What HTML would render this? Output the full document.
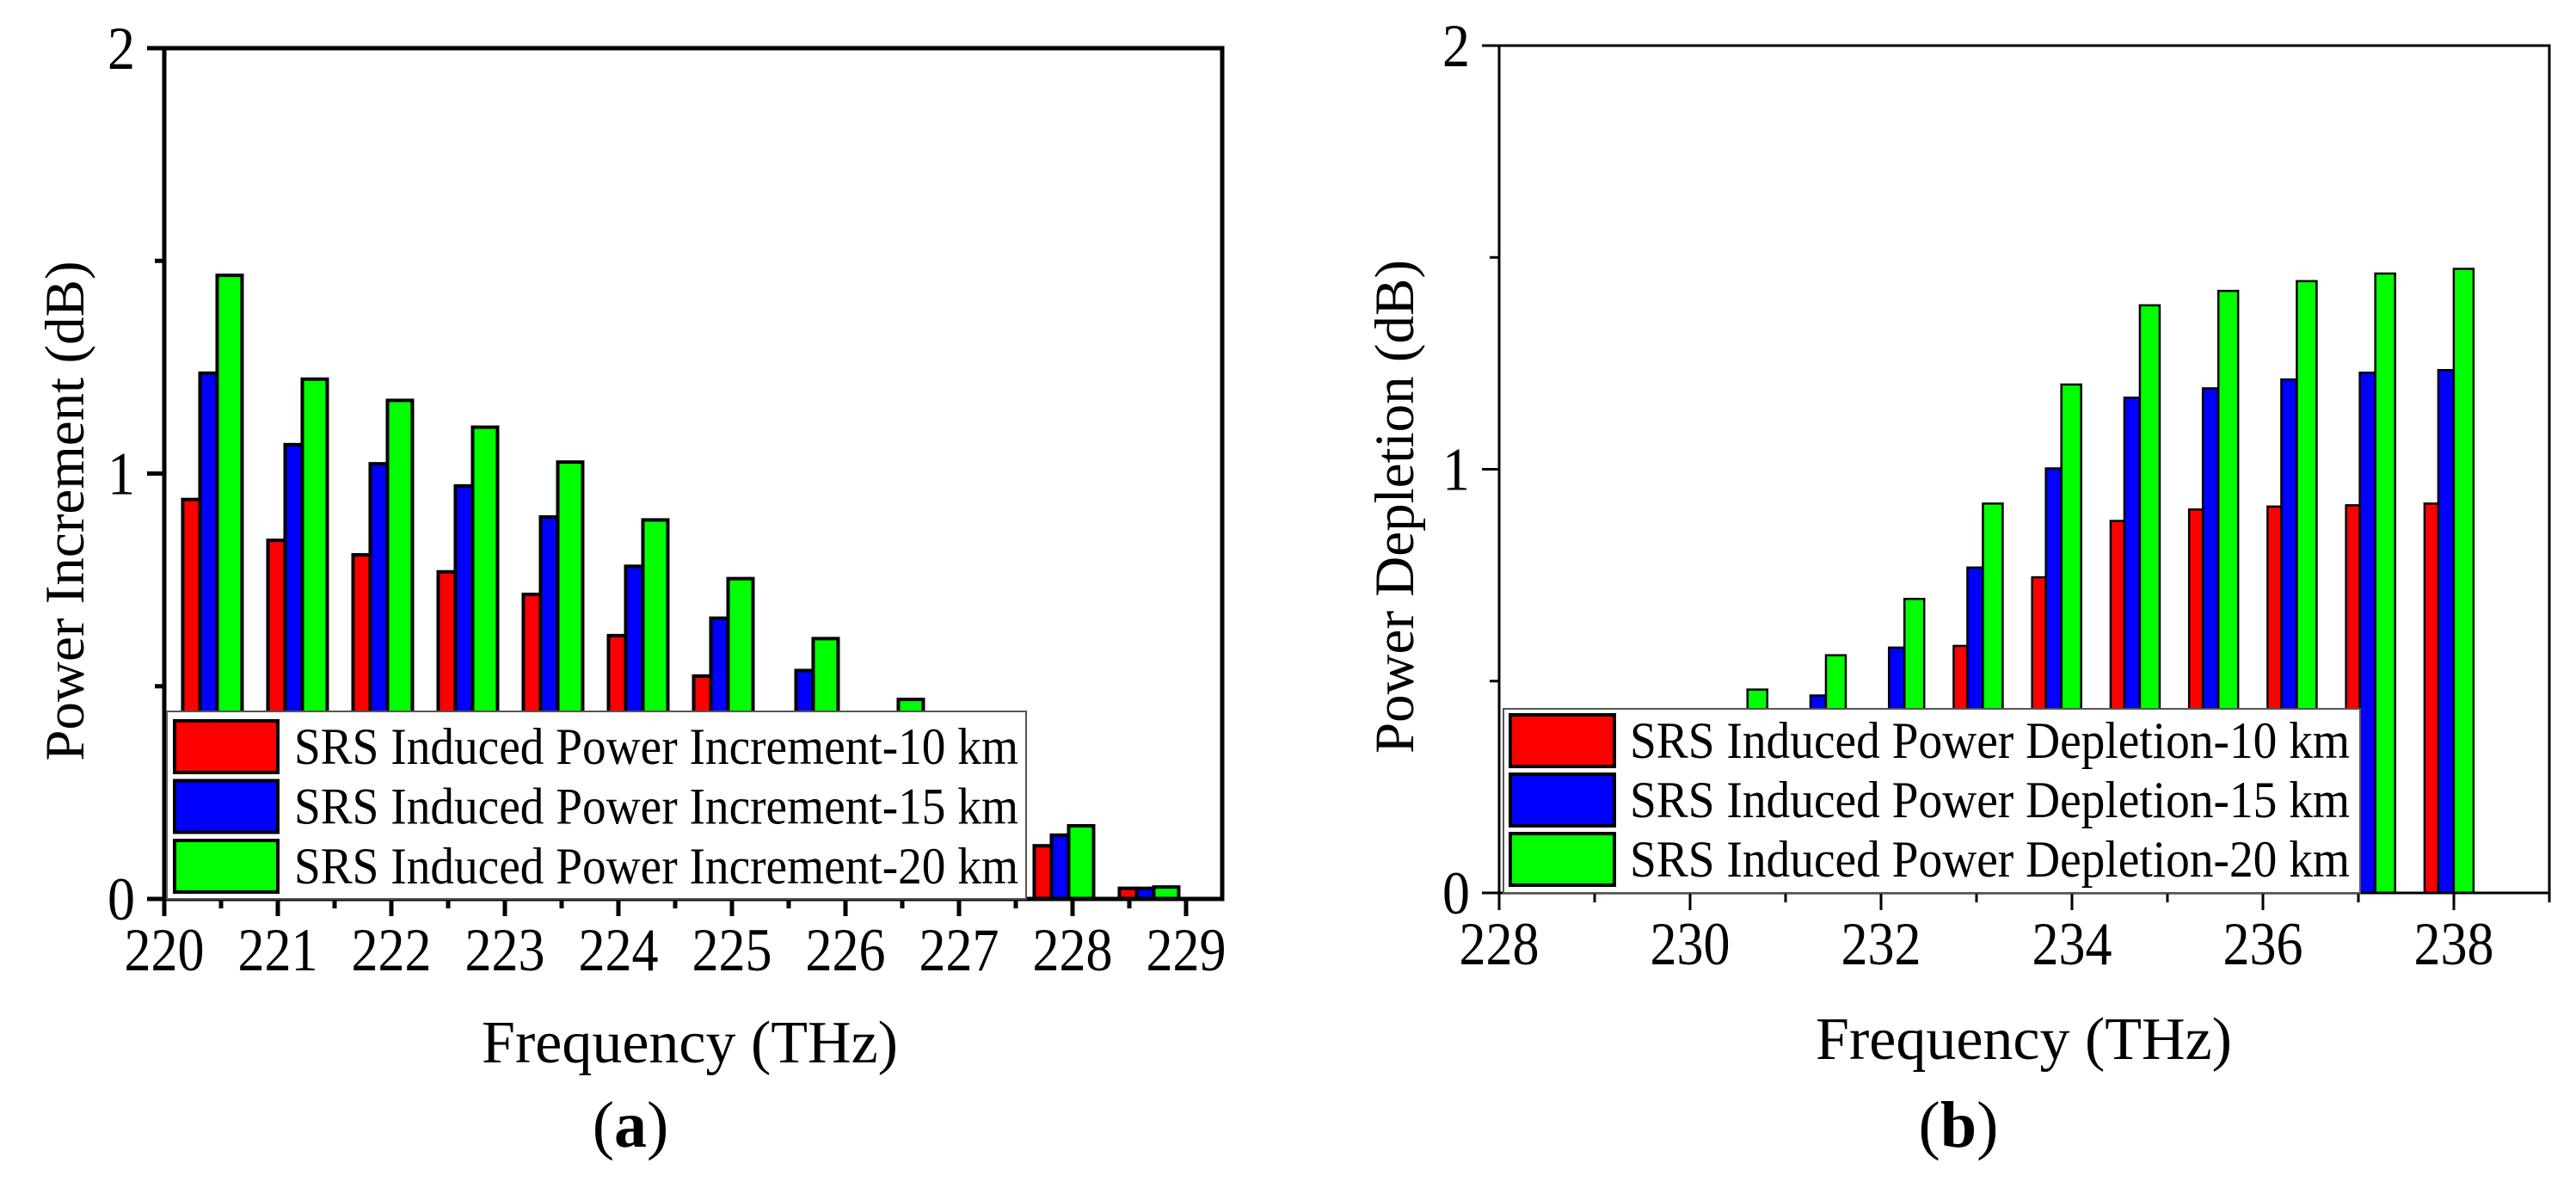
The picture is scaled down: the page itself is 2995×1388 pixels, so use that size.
<!DOCTYPE html>
<html><head><meta charset="utf-8">
<style>
html,body{margin:0;padding:0;background:#fff;}
svg{display:block;font-family:"Liberation Serif",serif;}
</style></head>
<body>
<svg id="fig" width="2995" height="1388" viewBox="0 0 2995 1388" xmlns="http://www.w3.org/2000/svg">
<rect width="2995" height="1388" fill="#fff"/>
<g id="chartA"></g>
<g id="chartB"></g>
</svg>
<script>
// ---- Chart (a) data ----
const catsA = [0,1,2,3,4,5,6,7,8,9,10,11]; // channel index
const freqStartA = 220.39;
const freqStepA = 0.75;
const inc10 = [0.939,0.843,0.809,0.769,0.716,0.619,0.524,0.40,0.30,0.22,0.125,0.025];
const inc15 = [1.236,1.068,1.023,0.971,0.898,0.782,0.660,0.537,0.38,0.28,0.150,0.025];
const inc20 = [1.466,1.222,1.172,1.109,1.027,0.891,0.753,0.612,0.469,0.32,0.172,0.028];
const xTicksA = [220,221,222,223,224,225,226,227,228,229];
const yTicks = [0,1,2];
const legendA = ["SRS Induced Power Increment-10 km","SRS Induced Power Increment-15 km","SRS Induced Power Increment-20 km"];

// ---- Chart (b) data ----
const catsB = [0,1,2,3,4,5,6,7,8,9];
const freqStartB = 230.52;
const freqStepB = 0.822;
const dep10 = [0.25,0.30,0.40,0.583,0.745,0.878,0.905,0.912,0.915,0.919];
const dep15 = [0.38,0.466,0.579,0.768,1.002,1.169,1.191,1.212,1.228,1.234];
const dep20 = [0.480,0.561,0.694,0.919,1.200,1.387,1.421,1.444,1.462,1.473];
const xTicksB = [228,230,232,234,236,238];
const legendB = ["SRS Induced Power Depletion-10 km","SRS Induced Power Depletion-15 km","SRS Induced Power Depletion-20 km"];

const NS = "http://www.w3.org/2000/svg";
function mk(parent, tag, attrs, text){
  const e = document.createElementNS(NS, tag);
  for (const k in attrs) e.setAttribute(k, attrs[k]);
  if (text !== undefined) e.textContent = text;
  parent.appendChild(e);
  return e;
}
const colors = ["#ff0000","#0000ff","#00ff00"];

function drawChart(g, cfg){
  const sx = v => cfg.L + (v - cfg.x0) * cfg.pxPerX;
  const sy = v => cfg.B - (v - 0) * (cfg.B - cfg.T) / 2;
  const series = cfg.series;
  // bars
  cfg.cats.forEach((c, i) => {
    const center = sx(cfg.start + cfg.step * c);
    const wR = cfg.w[0], wB = cfg.w[1];
    const lefts = [center - wB/2 - wR, center - wB/2, center + wB/2];
    for (let s = 0; s < 3; s++) {
      const v = series[s][i];
      const y = sy(v);
      const r = mk(g, "rect", {x: lefts[s], y: y, width: cfg.w[s], height: cfg.B - y,
        fill: colors[s], stroke: "#000", "stroke-width": cfg.bsw});
      
      
    }
  });
  // frame
  const fr = mk(g, "rect", {x: cfg.L, y: cfg.T, width: cfg.R - cfg.L, height: cfg.B - cfg.T, fill: "none", stroke: "#000", "stroke-width": cfg.asw});
  
  
  // y ticks
  yTicks.forEach(t => {
    mk(g, "line", {x1: cfg.L - 20, x2: cfg.L, y1: sy(t), y2: sy(t), stroke: "#000", "stroke-width": cfg.asw});
    const tl = mk(g, "text", {x: cfg.ylx, y: sy(t) + 24, "font-size": 71, "text-anchor": "middle", textLength: 32, lengthAdjust: "spacingAndGlyphs"}, String(t));
    
    
  });
  [0.5, 1.5].forEach(t => mk(g, "line", {x1: cfg.L - 11, x2: cfg.L, y1: sy(t), y2: sy(t), stroke: "#000", "stroke-width": cfg.asw}));
  // x ticks
  cfg.xTicks.forEach(t => {
    mk(g, "line", {x1: sx(t), x2: sx(t), y1: cfg.B, y2: cfg.B + 20, stroke: "#000", "stroke-width": cfg.asw});
    const tl = mk(g, "text", {x: sx(t), y: cfg.B + 83, "font-size": 71, "text-anchor": "middle", textLength: 93, lengthAdjust: "spacingAndGlyphs"}, String(t));
    
    
  });
  cfg.minor.forEach(t => mk(g, "line", {x1: sx(t), x2: sx(t), y1: cfg.B, y2: cfg.B + 11, stroke: "#000", "stroke-width": cfg.asw}));
  // legend
  const lg = mk(g, "g", {});
  
  
  mk(lg, "rect", {x: cfg.leg.x, y: cfg.leg.y, width: cfg.leg.w, height: cfg.B - cfg.leg.y, fill: "#fff", stroke: "#555", "stroke-width": 2});
  cfg.legend.forEach((txt, s) => {
    const ry = cfg.leg.row0 + s * cfg.leg.dy;
    const sw = mk(lg, "rect", {x: cfg.leg.sx, y: ry, width: cfg.leg.sw, height: 60, fill: colors[s], stroke: "#000", "stroke-width": 4});
    
    
    const t = mk(lg, "text", {x: cfg.leg.tx, y: ry + 50, "font-size": 60, textLength: cfg.leg.tl, lengthAdjust: "spacingAndGlyphs"}, txt);
    
    
  });
  // titles
  const xt = mk(g, "text", {x: cfg.xtx, y: cfg.xty, "font-size": 70, "text-anchor": "middle"}, "Frequency (THz)");
  
  
  const yt = mk(g, "text", {x: 0, y: 0, "font-size": 65, "text-anchor": "middle", transform: `translate(${cfg.ytx},${cfg.yty}) rotate(-90)`}, cfg.ytitle);
  
  
  const pl = mk(g, "text", {x: cfg.plx, y: 1333, "font-size": 76, "text-anchor": "middle"});
  
  
  mk(pl, "tspan", {}, "(");
  mk(pl, "tspan", {"font-weight": "bold"}, cfg.tag);
  mk(pl, "tspan", {}, ")");
}

drawChart(document.getElementById("chartA"), {
  tag: "a", L: 191, R: 1421, T: 56, B: 1045, x0: 220, pxPerX: 132,
  cats: catsA, start: freqStartA, step: freqStepA, series: [inc10, inc15, inc20],
  w: [20, 20, 29], bsw: 4, asw: 5, ylx: 141, xTicks: xTicksA,
  minor: [220.5,221.5,222.5,223.5,224.5,225.5,226.5,227.5,228.5],
  legend: legendA,
  leg: {x: 194, y: 827, w: 999, sx: 203, sw: 120, row0: 838, dy: 69.5, tx: 342, tl: 842},
  xtx: 802, xty: 1235, ytx: 97, yty: 594, ytitle: "Power Increment (dB)", plx: 733
});
drawChart(document.getElementById("chartB"), {
  tag: "b", L: 1743, R: 2964, T: 53, B: 1038, x0: 228, pxPerX: 111,
  cats: catsB, start: freqStartB, step: freqStepB, series: [dep10, dep15, dep20],
  w: [16, 18, 23], bsw: 2.5, asw: 3, ylx: 1693, xTicks: xTicksB,
  minor: [229,231,233,235,237,239],
  legend: legendB,
  leg: {x: 1748, y: 824, w: 996, sx: 1756, sw: 121, row0: 831, dy: 69, tx: 1895, tl: 837},
  xtx: 2353, xty: 1231, ytx: 1643, yty: 589, ytitle: "Power Depletion (dB)", plx: 2277
});
</script>
</body></html>
